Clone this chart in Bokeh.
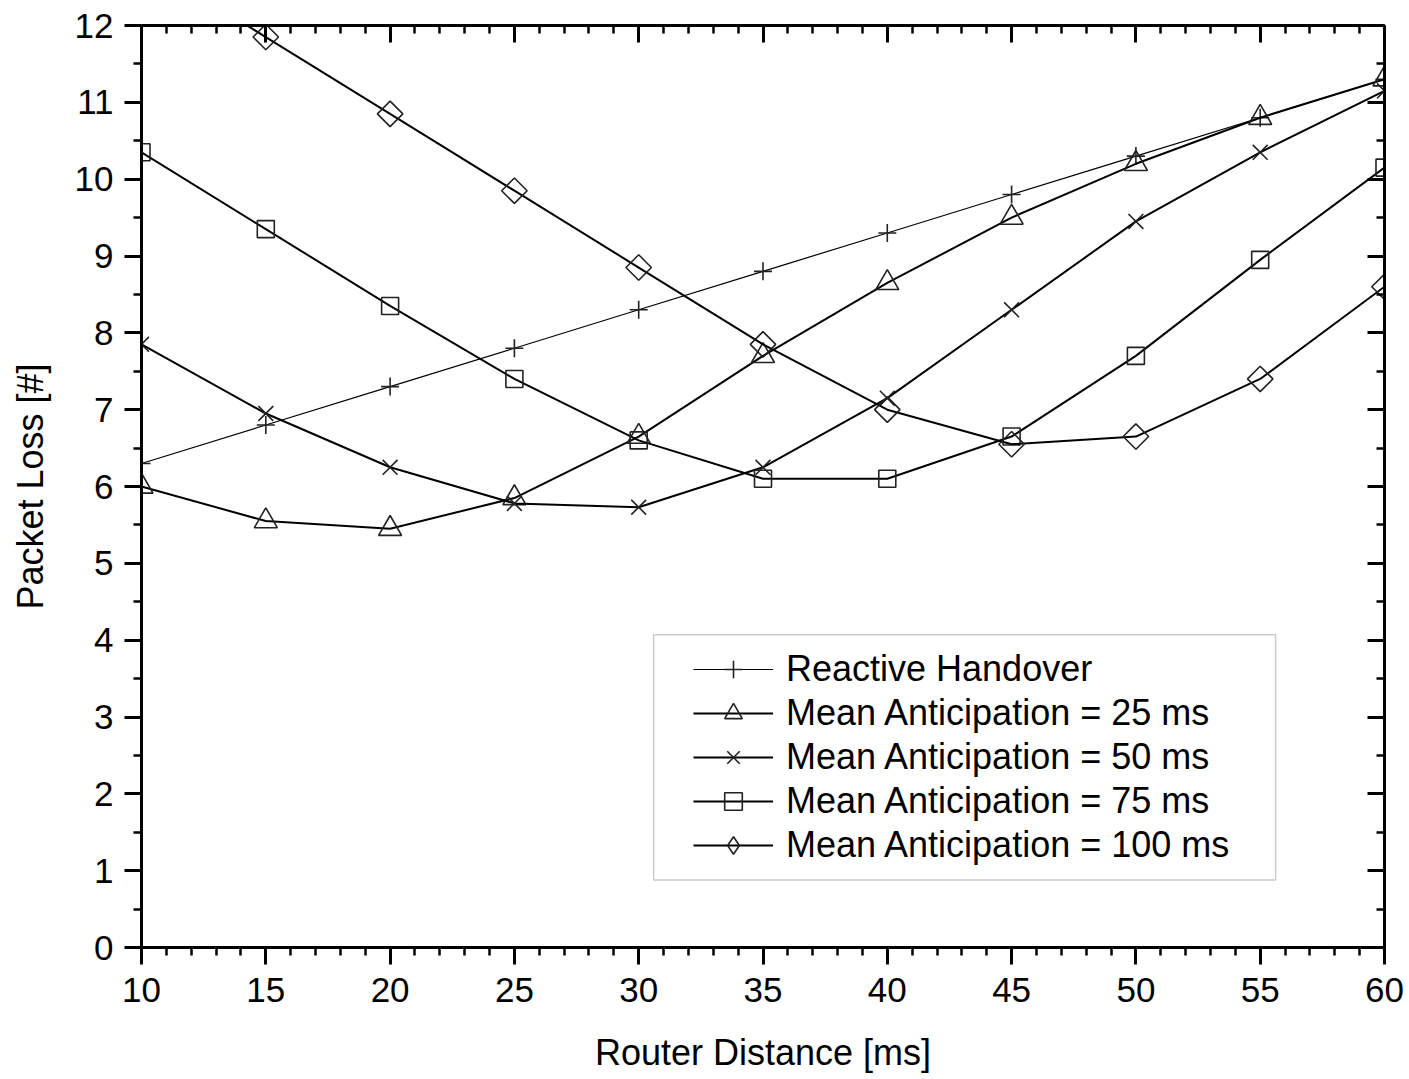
import numpy as np
from bokeh.plotting import figure
from bokeh.models import (Range1d, LinearAxis, FixedTicker, Legend, LegendItem,
                          BoxAnnotation)
from bokeh.embed import file_html
from bokeh.resources import INLINE

# ---- data ----
router_distance = [10, 15, 20, 25, 30, 35, 40, 45, 50, 55, 60]
reactive = [6.3, 6.8, 7.3, 7.8, 8.3, 8.8, 9.3, 9.8, 10.3, 10.8, 11.3]
ant_25 = [6.0, 5.55, 5.45, 5.85, 6.65, 7.7, 8.65, 9.5, 10.2, 10.8, 11.3]
ant_50 = [7.85, 6.95, 6.25, 5.78, 5.73, 6.25, 7.15, 8.3, 9.45, 10.35, 11.15]
ant_75 = [10.35, 9.35, 8.35, 7.4, 6.6, 6.1, 6.1, 6.65, 7.7, 8.95, 10.15]
ant_100 = [12.85, 11.85, 10.85, 9.85, 8.85, 7.85, 7.0, 6.55, 6.65, 7.4, 8.6]

series_labels = ["Reactive Handover", "Mean Anticipation = 25 ms",
                 "Mean Anticipation = 50 ms", "Mean Anticipation = 75 ms",
                 "Mean Anticipation = 100 ms"]
x_ticks = [10, 15, 20, 25, 30, 35, 40, 45, 50, 55, 60]
y_ticks = list(range(0, 13))

FONT = "Liberation Sans"

p = figure(width=1405, height=1075, output_backend="svg", toolbar_location=None,
           x_range=Range1d(10, 60), y_range=Range1d(0, 12),
           min_border_left=141, min_border_right=21, min_border_top=25,
           min_border_bottom=125)
p.outline_line_color = None
p.xgrid.visible = False
p.ygrid.visible = False
p.background_fill_color = "white"
p.border_fill_color = "white"

def style_axis(ax, inward):
    ax.axis_line_width = 3
    ax.major_tick_line_width = 3
    ax.minor_tick_line_width = 2.5
    if inward:
        ax.major_tick_in, ax.major_tick_out = 17, 0
        ax.minor_tick_in, ax.minor_tick_out = 8, 0
    else:
        ax.major_tick_in, ax.major_tick_out = 0, 17
        ax.minor_tick_in, ax.minor_tick_out = 0, 8
    ax.major_label_text_font = FONT
    ax.major_label_text_font_size = "35px"
    ax.major_label_text_color = "black"
    ax.axis_label_text_font = FONT
    ax.axis_label_text_font_size = "36px"
    ax.axis_label_text_font_style = "normal"
    ax.axis_label_text_color = "black"

xt = FixedTicker(ticks=x_ticks, minor_ticks=list(range(10, 61)))
yt = FixedTicker(ticks=y_ticks, minor_ticks=list(np.arange(0, 12.01, 0.5)))

xa = p.xaxis[0]
xa.ticker = xt
xa.axis_label = "Router Distance [ms]"
style_axis(xa, False)
xa.major_label_standoff = 13
xa.axis_label_standoff = 27

ya = p.yaxis[0]
ya.ticker = yt
ya.axis_label = "Packet Loss [#]"
style_axis(ya, False)
ya.major_label_standoff = 11
ya.axis_label_standoff = 21

top = LinearAxis(ticker=xt)
style_axis(top, True)
top.major_label_overrides = {t: "" for t in x_ticks}
p.add_layout(top, "above")

right = LinearAxis(ticker=yt)
style_axis(right, True)
right.major_label_overrides = {t: "" for t in y_ticks}
p.add_layout(right, "right")

# legend box
box = BoxAnnotation(left=30.6, right=55.62, bottom=0.88, top=4.07,
                    fill_color="white", fill_alpha=1.0,
                    line_color="#555555", line_width=1.5)
p.add_layout(box)

items = []
series = [reactive, ant_25, ant_50, ant_75, ant_100]
markers = ["cross", "triangle", "x", "square", "square"]
legend_markers = [None, None, None, None, "diamond"]
angles = [0, 0, 0, 0, np.pi / 4]
sizes = [18, 23, 21, 17, 18]
lw = [1.2, 2, 2, 2, 2]
for lab, ys, mk, lmk, ang, sz, w in zip(series_labels, series, markers,
                                         legend_markers, angles, sizes, lw):
    r1 = p.line(router_distance, ys, line_color="black", line_width=w)
    r2 = p.scatter(router_distance, ys, marker=mk, size=sz, angle=ang,
                   fill_color=None, line_color="#222222", line_width=1.6)
    rends = [r1, r2]
    if lmk is not None:
        # legend-only marker (legend samples ignore marker angle)
        r3 = p.scatter([np.nan], [np.nan], marker=lmk, size=sz,
                       fill_color=None, line_color="#222222", line_width=1.6)
        rends = [r1, r3]
    items.append(LegendItem(label=lab, renderers=rends))

legend = Legend(items=items, location=(540, 68), padding=12, margin=0,
                spacing=0, glyph_width=80, glyph_height=44, label_height=44,
                label_standoff=13, label_text_font=FONT,
                label_text_font_size="36px", label_text_color="black",
                border_line_alpha=0, background_fill_alpha=0)
p.add_layout(legend, "center")

open("out.html", "w").write(file_html(p, INLINE))
